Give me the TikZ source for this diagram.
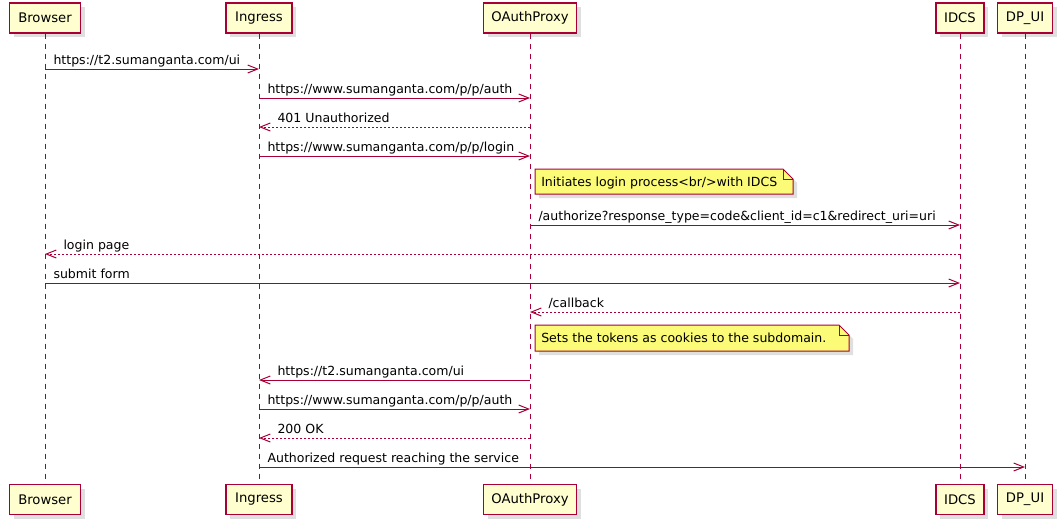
\documentclass[tikz,border=0pt]{standalone}
\usepackage{fontspec}
\setmainfont{DejaVu Sans}
\usetikzlibrary{arrows.meta,shadows}
\definecolor{pred}{HTML}{A80036}
\definecolor{pfill}{HTML}{FEFECE}
\definecolor{nfill}{HTML}{FBFB77}
\begin{document}
\begin{tikzpicture}[x=0.75pt,y=-0.75pt,
  part/.style={draw=pred,fill=pfill,line width=1pt,minimum height=22.5pt,inner sep=0pt,
    font=\fontsize{9.9}{12}\selectfont,
    drop shadow={shadow xshift=3pt,shadow yshift=-3pt,opacity=0.25}},
  life/.style={draw=pred,line width=0.75pt,dash pattern=on 3.75pt off 3.75pt},
  msg/.style={draw=pred,line width=0.75pt,-{Straight Barb[length=7.5pt,width=6pt]}},
  ret/.style={msg,dash pattern=on 1.5pt off 1.5pt},
  lbl/.style={inner sep=0pt,anchor=base west,font=\fontsize{9.4}{12}\selectfont,text=black,yshift=3.3pt},
  rlbl/.style={lbl,at start,xshift=6pt},
  llbl/.style={lbl,at end,xshift=13.5pt},
  notebox/.style={draw=pred,fill=nfill,line width=0.75pt,
    drop shadow={shadow xshift=3pt,shadow yshift=-3pt,opacity=0.25}},
  notetext/.style={inner sep=0pt,anchor=base west,font=\fontsize{9.4}{12}\selectfont}
]
\useasboundingbox (0,0) rectangle (1060,525);

% participants
\node[part,minimum width=53.25pt] (b1) at (45,18) {Browser};
\node[part,minimum width=49.5pt] (i1) at (259,18) {Ingress};
\node[part,minimum width=69.75pt] (o1) at (530,18) {OAuthProxy};
\node[part,minimum width=36pt] (c1) at (960,18) {IDCS};
\node[part,minimum width=41.25pt] (d1) at (1025,18) {DP\_UI};

\node[part,minimum width=53.25pt] (b2) at (45,499.5) {Browser};
\node[part,minimum width=49.5pt] (i2) at (259,499.5) {Ingress};
\node[part,minimum width=69.75pt] (o2) at (530,499.5) {OAuthProxy};
\node[part,minimum width=36pt] (c2) at (960,499.5) {IDCS};
\node[part,minimum width=41.25pt] (d2) at (1025,499.5) {DP\_UI};

% lifelines
\draw[life] (b1) -- (b2);
\draw[life] (i1) -- (i2);
\draw[life] (o1) -- (o2);
\draw[life] (c1) -- (c2);
\draw[life] (d1) -- (d2);

% messages
\draw[msg] (b1 |- 0,69) -- (i1 |- 0,69) node[rlbl] {https://t2.sumanganta.com/ui};
\draw[msg] (i1 |- 0,98) -- (o1 |- 0,98) node[rlbl] {https://www.sumanganta.com/p/p/auth};
\draw[ret] (o1 |- 0,127) -- (i1 |- 0,127) node[llbl] {401 Unauthorized};
\draw[msg] (i1 |- 0,156) -- (o1 |- 0,156) node[rlbl] {https://www.sumanganta.com/p/p/login};

% note 1
\draw[notebox] (535,169) -- (783,169) -- (793,179) -- (793,194) -- (535,194) -- cycle;
\draw[draw=pred,line width=0.75pt] (783,169) -- (783,179) -- (793,179);
\node[notetext] (n1) at (541,186) {Initiates login process<br/>with IDCS};

\draw[msg] (o1 |- 0,225) -- (c1 |- 0,225) node[rlbl] {/authorize?response\_type=code\&client\_id=c1\&redirect\_uri=uri};
\draw[ret] (c1 |- 0,254) -- (b1 |- 0,254) node[llbl] {login page};
\draw[msg] (b1 |- 0,283) -- (c1 |- 0,283) node[rlbl] {submit form};
\draw[ret] (c1 |- 0,312) -- (o1 |- 0,312) node[llbl] {/callback};

% note 2
\draw[notebox] (535,325) -- (839,325) -- (849,335) -- (849,351) -- (535,351) -- cycle;
\draw[draw=pred,line width=0.75pt] (839,325) -- (839,335) -- (849,335);
\node[notetext] (n2) at (541,342) {Sets the tokens as cookies to the subdomain.};

\draw[msg] (o1 |- 0,380) -- (i1 |- 0,380) node[llbl] {https://t2.sumanganta.com/ui};
\draw[msg] (i1 |- 0,409) -- (o1 |- 0,409) node[rlbl] {https://www.sumanganta.com/p/p/auth};
\draw[ret] (o1 |- 0,438) -- (i1 |- 0,438) node[llbl] {200 OK};
\draw[msg] (i1 |- 0,467) -- (d1 |- 0,467) node[rlbl] {Authorized request reaching the service};
\end{tikzpicture}
\end{document}
